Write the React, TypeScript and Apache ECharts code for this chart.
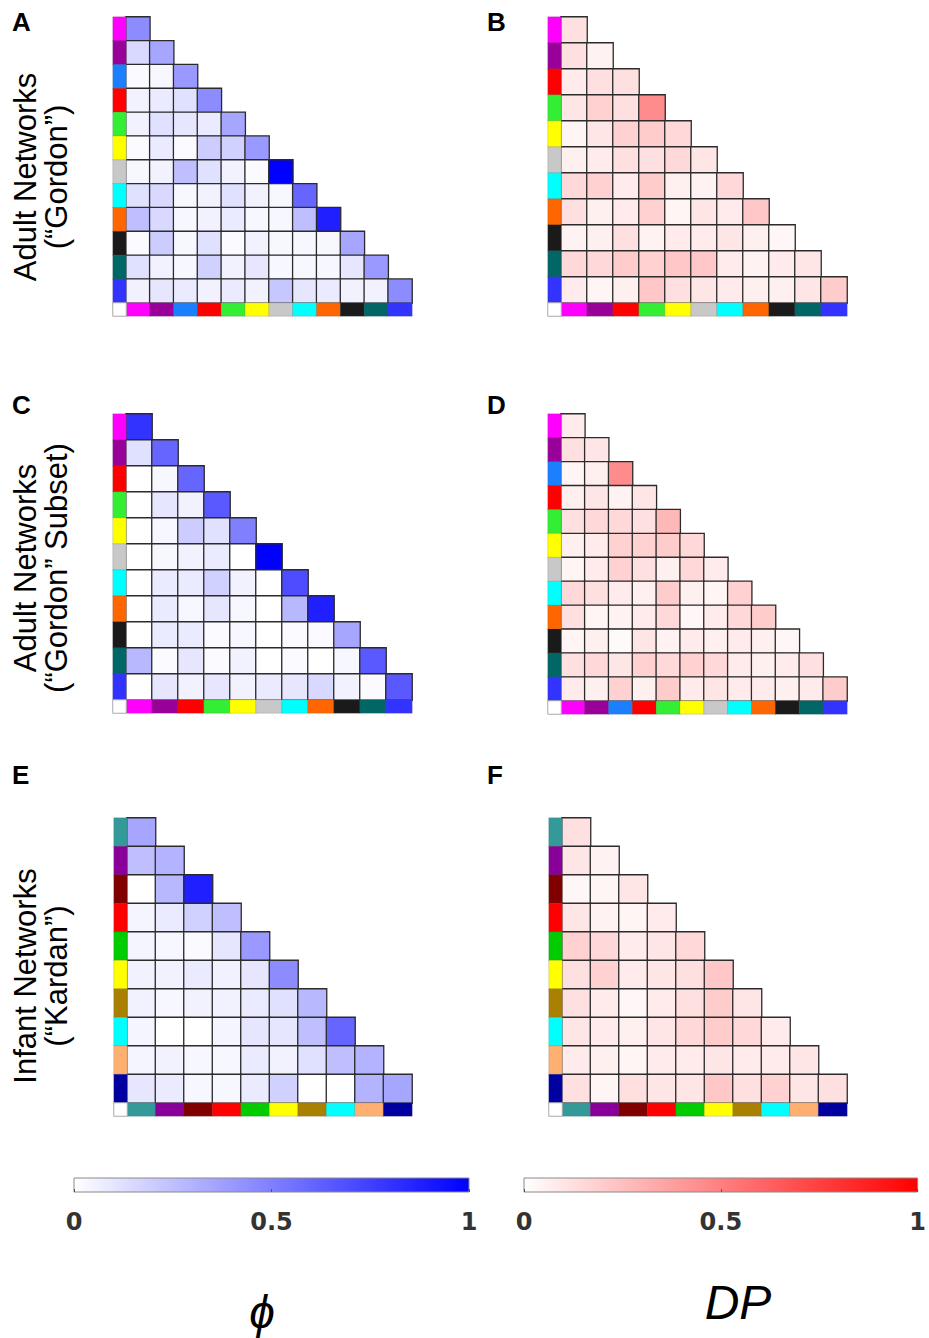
import React, { useEffect, useRef } from "react";
import * as echarts from "echarts";

// ---------- Networks (row / column colour keys) ----------
const gordonNets = ["Auditory", "CinguloOperc", "RetrosplenialTemporal", "Default", "DorsalAttn", "FrontoParietal", "CinguloParietal", "SMhand", "SMmouth", "Salience", "VentralAttn", "Visual"];
const gordonColors = ["#ff00ff", "#990099", "#1a80ff", "#ff0000", "#33ee33", "#ffff00", "#c8c8c8", "#00ffff", "#ff6600", "#1a1a1a", "#006666", "#3333ff"];
const subsetNets = ["Auditory", "CinguloOperc", "Default", "DorsalAttn", "FrontoParietal", "CinguloParietal", "SMhand", "SMmouth", "Salience", "VentralAttn", "Visual"];
const subsetColors = ["#ff00ff", "#990099", "#ff0000", "#33ee33", "#ffff00", "#c8c8c8", "#00ffff", "#ff6600", "#1a1a1a", "#006666", "#3333ff"];
const kardanNets = ["K1", "K2", "K3", "K4", "K5", "K6", "K7", "K8", "K9", "K10"];
const kardanColors = ["#339999", "#880099", "#800000", "#ff0000", "#00cc00", "#ffff00", "#aa8000", "#00ffff", "#ffb070", "#0000a0"];

// ---------- Values (lower triangle, row by row) ----------
const phiGordon = [
  [0.45],
  [0.15, 0.35],
  [0.02, 0.03, 0.4],
  [0.05, 0.08, 0.12, 0.45],
  [0.05, 0.12, 0.1, 0.08, 0.35],
  [0.02, 0.08, 0.02, 0.2, 0.18, 0.4],
  [0.03, 0.05, 0.25, 0.12, 0.05, 0.02, 1.0],
  [0.12, 0.15, 0.03, 0.05, 0.12, 0.05, 0.03, 0.6],
  [0.25, 0.15, 0.03, 0.05, 0.08, 0.03, 0.03, 0.25, 0.88],
  [0.02, 0.2, 0.03, 0.12, 0.02, 0.05, 0.03, 0.03, 0.03, 0.35],
  [0.12, 0.05, 0.03, 0.18, 0.05, 0.1, 0.03, 0.03, 0.03, 0.1, 0.4],
  [0.05, 0.1, 0.08, 0.05, 0.08, 0.05, 0.22, 0.1, 0.08, 0.05, 0.05, 0.45],
];
const dpGordon = [
  [0.12],
  [0.12, 0.05],
  [0.08, 0.12, 0.12],
  [0.1, 0.18, 0.12, 0.45],
  [0.04, 0.1, 0.18, 0.2, 0.15],
  [0.06, 0.08, 0.12, 0.12, 0.15, 0.1],
  [0.15, 0.18, 0.08, 0.2, 0.06, 0.05, 0.15],
  [0.12, 0.06, 0.08, 0.18, 0.04, 0.1, 0.08, 0.22],
  [0.05, 0.06, 0.12, 0.05, 0.08, 0.08, 0.1, 0.06, 0.03],
  [0.15, 0.15, 0.2, 0.18, 0.22, 0.22, 0.08, 0.05, 0.08, 0.1],
  [0.08, 0.04, 0.06, 0.22, 0.12, 0.1, 0.08, 0.06, 0.06, 0.1, 0.2],
];
const phiSubset = [
  [0.8],
  [0.12, 0.6],
  [0.0, 0.03, 0.6],
  [0.0, 0.1, 0.05, 0.65],
  [0.0, 0.03, 0.2, 0.12, 0.5],
  [0.0, 0.03, 0.05, 0.08, 0.0, 1.0],
  [0.0, 0.08, 0.08, 0.18, 0.05, 0.0, 0.7],
  [0.0, 0.08, 0.03, 0.1, 0.03, 0.0, 0.28, 0.88],
  [0.0, 0.08, 0.08, 0.02, 0.03, 0.0, 0.02, 0.02, 0.35],
  [0.28, 0.02, 0.1, 0.02, 0.05, 0.0, 0.02, 0.0, 0.03, 0.65],
  [0.0, 0.1, 0.05, 0.1, 0.05, 0.08, 0.1, 0.15, 0.05, 0.02, 0.65],
];
const dpSubset = [
  [0.08],
  [0.12, 0.1],
  [0.04, 0.06, 0.45],
  [0.06, 0.1, 0.05, 0.1],
  [0.12, 0.15, 0.15, 0.12, 0.28],
  [0.06, 0.08, 0.18, 0.18, 0.2, 0.15],
  [0.04, 0.08, 0.18, 0.12, 0.06, 0.15, 0.08],
  [0.15, 0.12, 0.08, 0.06, 0.2, 0.06, 0.04, 0.18],
  [0.12, 0.04, 0.05, 0.08, 0.15, 0.03, 0.08, 0.15, 0.2],
  [0.04, 0.06, 0.02, 0.1, 0.05, 0.08, 0.06, 0.08, 0.06, 0.03],
  [0.12, 0.15, 0.1, 0.18, 0.15, 0.18, 0.15, 0.08, 0.06, 0.08, 0.12],
  [0.08, 0.06, 0.18, 0.06, 0.2, 0.08, 0.1, 0.08, 0.08, 0.06, 0.08, 0.2],
];
const phiInfant = [
  [0.35],
  [0.25, 0.3],
  [0.0, 0.28, 0.88],
  [0.04, 0.08, 0.18, 0.25],
  [0.04, 0.03, 0.02, 0.1, 0.4],
  [0.05, 0.05, 0.08, 0.05, 0.1, 0.45],
  [0.05, 0.03, 0.05, 0.05, 0.08, 0.12, 0.28],
  [0.04, 0.0, 0.0, 0.04, 0.1, 0.1, 0.25, 0.6],
  [0.04, 0.05, 0.03, 0.03, 0.08, 0.05, 0.12, 0.25, 0.3],
  [0.1, 0.08, 0.03, 0.03, 0.08, 0.18, 0.0, 0.0, 0.3, 0.35],
];
const dpInfant = [
  [0.12],
  [0.1, 0.05],
  [0.03, 0.04, 0.1],
  [0.1, 0.05, 0.04, 0.08],
  [0.18, 0.15, 0.08, 0.1, 0.15],
  [0.12, 0.18, 0.08, 0.1, 0.12, 0.22],
  [0.12, 0.08, 0.03, 0.08, 0.12, 0.2, 0.1],
  [0.1, 0.08, 0.06, 0.1, 0.15, 0.2, 0.15, 0.08],
  [0.08, 0.06, 0.04, 0.08, 0.08, 0.1, 0.08, 0.08, 0.1],
  [0.12, 0.04, 0.12, 0.1, 0.1, 0.22, 0.12, 0.18, 0.1, 0.12],
];

const colorbarTicks = [0, 0.5, 1];

const FONT = '"Liberation Sans", Arial, Helvetica, sans-serif';

export default function App() {
  const ref = useRef<HTMLDivElement>(null);

  useEffect(() => {
    if (!ref.current) return;
    const chart = echarts.init(ref.current, undefined, { renderer: "svg" });

    const palettes: Record<string, string[]> = {
      gordon: gordonColors,
      subset: subsetColors,
      kardan: kardanColors,
    };
    const panels = [
      { letter: "A", values: phiGordon, nets: gordonNets, pal: "gordon", map: "phi", left: 126, top: 17, w: 286, h: 286 },
      { letter: "B", values: dpGordon, nets: subsetNets, pal: "subset", map: "dp", left: 561, top: 17, w: 286, h: 286 },
      { letter: "C", values: phiSubset, nets: subsetNets, pal: "subset", map: "phi", left: 126, top: 414, w: 286, h: 286 },
      { letter: "D", values: dpSubset, nets: gordonNets, pal: "gordon", map: "dp", left: 561, top: 414, w: 286, h: 287 },
      { letter: "E", values: phiInfant, nets: kardanNets, pal: "kardan", map: "phi", left: 127, top: 818, w: 285, h: 285 },
      { letter: "F", values: dpInfant, nets: kardanNets, pal: "kardan", map: "dp", left: 562, top: 818, w: 285, h: 285 },
    ];
    const S = 13;

    const grid: any[] = [];
    const xAxis: any[] = [];
    const yAxis: any[] = [];
    const series: any[] = [];
    const idx: Record<string, number[]> = { phi: [], dp: [], gordon: [], subset: [], kardan: [], corner: [] };

    const hiddenCat = (data: string[], inverse = false) => ({
      type: "category", data, show: false, inverse,
    });

    const addGrid = (g: any, xd: string[], yd: string[]) => {
      const gi = grid.length;
      grid.push({ ...g, containLabel: false });
      xAxis.push({ ...hiddenCat(xd), gridIndex: gi });
      yAxis.push({ ...hiddenCat(yd, true), gridIndex: gi });
      return gi;
    };

    panels.forEach((p) => {
      // main triangle
      const gMain = addGrid({ left: p.left, top: p.top, width: p.w, height: p.h }, p.nets, p.nets);
      const cells: any[] = [];
      p.values.forEach((row, i) => row.forEach((v, j) => cells.push([j, i, v])));
      idx[p.map].push(series.length);
      series.push({
        type: "heatmap", xAxisIndex: gMain, yAxisIndex: gMain, data: cells,
        itemStyle: { borderColor: "#2b2b2b", borderWidth: 1.3 },
        emphasis: { disabled: true },
      });
      // row key strip
      const gRow = addGrid({ left: p.left - S, top: p.top, width: S, height: p.h }, ["key"], p.nets);
      idx[p.pal].push(series.length);
      series.push({
        type: "heatmap", xAxisIndex: gRow, yAxisIndex: gRow,
        data: p.nets.map((_, i) => [0, i, i]),
        itemStyle: { borderColor: "rgba(90,90,90,0.35)", borderWidth: 0.6 },
        emphasis: { disabled: true },
      });
      // column key strip
      const gCol = addGrid({ left: p.left, top: p.top + p.h, width: p.w, height: S }, p.nets, ["key"]);
      idx[p.pal].push(series.length);
      series.push({
        type: "heatmap", xAxisIndex: gCol, yAxisIndex: gCol,
        data: p.nets.map((_, i) => [i, 0, i]),
        itemStyle: { borderColor: "rgba(90,90,90,0.35)", borderWidth: 0.6 },
        emphasis: { disabled: true },
      });
      // corner
      const gCorner = addGrid({ left: p.left - S, top: p.top + p.h, width: S, height: S }, ["key"], ["key"]);
      idx.corner.push(series.length);
      series.push({
        type: "heatmap", xAxisIndex: gCorner, yAxisIndex: gCorner,
        data: [[0, 0, 0]],
        itemStyle: { borderColor: "#aaaaaa", borderWidth: 1 },
        emphasis: { disabled: true },
      });
    });

    // colour bars
    const bars = [
      { left: 74, color: "#0000ff" },
      { left: 524, color: "#ff0000" },
    ];
    bars.forEach((b) => {
      const gi = grid.length;
      grid.push({
        left: b.left, top: 1178, width: 395, height: 14, show: true,
        borderColor: "#8a8a8a", borderWidth: 1,
        backgroundColor: {
          type: "linear", x: 0, y: 0, x2: 1, y2: 0,
          colorStops: [{ offset: 0, color: "#ffffff" }, { offset: 1, color: b.color }],
        },
      });
      xAxis.push({
        gridIndex: gi, type: "value", min: colorbarTicks[0], max: colorbarTicks[colorbarTicks.length - 1],
        interval: colorbarTicks[1] - colorbarTicks[0],
        axisLine: { show: false },
        axisTick: { show: true, inside: true, length: 3, lineStyle: { color: "#555" } },
        splitLine: { show: false },
        axisLabel: {
          margin: 18, fontSize: 24, fontWeight: "bold", color: "#333",
          fontFamily: '"DejaVu Sans", sans-serif',
          formatter: (v: number) => String(v),
        },
      });
      yAxis.push({ gridIndex: gi, type: "value", show: false, min: 0, max: 1 });
    });

    const graphic: any[] = [];
    const letterPos = [
      [12, 22], [487, 22], [12, 405], [487, 405], [12, 775], [487, 775],
    ];
    panels.forEach((p, k) => {
      graphic.push({
        type: "text", x: letterPos[k][0], y: letterPos[k][1],
        style: { text: p.letter, font: `bold 26px ${FONT}`, fill: "#000", textAlign: "left", textVerticalAlign: "middle" },
      });
    });
    const rowLabels = [
      { text: "Adult Networks\n(“Gordon”)", y: 177 },
      { text: "Adult Networks\n(“Gordon” Subset)", y: 568 },
      { text: "Infant Networks\n(“Kardan”)", y: 976 },
    ];
    rowLabels.forEach((r) => {
      graphic.push({
        type: "text", x: 41, y: r.y, rotation: Math.PI / 2,
        style: {
          text: r.text, font: `31px ${FONT}`, fill: "#000",
          textAlign: "center", textVerticalAlign: "middle", lineHeight: 31,
        },
      });
    });
    graphic.push({
      type: "text", x: 262, y: 1312,
      style: { text: "ϕ", font: `italic 46px ${FONT}`, fill: "#000", textAlign: "center", textVerticalAlign: "middle" },
    });
    graphic.push({
      type: "text", x: 738, y: 1302,
      style: { text: "DP", font: `italic 48px ${FONT}`, fill: "#000", textAlign: "center", textVerticalAlign: "middle" },
    });

    const pieceMap = (key: string) => ({
      type: "piecewise", show: false, seriesIndex: idx[key], dimension: 2,
      pieces: palettes[key].map((c, i) => ({ value: i, color: c })),
    });

    chart.setOption({
      animation: false,
      backgroundColor: "#ffffff",
      grid, xAxis, yAxis, series, graphic,
      visualMap: [
        { type: "continuous", show: false, min: 0, max: 1, dimension: 2, seriesIndex: idx.phi, inRange: { color: ["#ffffff", "#0000ff"] } },
        { type: "continuous", show: false, min: 0, max: 1, dimension: 2, seriesIndex: idx.dp, inRange: { color: ["#ffffff", "#ff0000"] } },
        pieceMap("gordon"),
        pieceMap("subset"),
        pieceMap("kardan"),
        { type: "piecewise", show: false, seriesIndex: idx.corner, dimension: 2, pieces: [{ value: 0, color: "#ffffff" }] },
      ],
    });

    return () => chart.dispose();
  }, []);

  return (
    <div
      ref={ref}
      style={{ position: "absolute", left: 0, top: 0, width: 929, height: 1338, background: "#fff" }}
    />
  );
}
